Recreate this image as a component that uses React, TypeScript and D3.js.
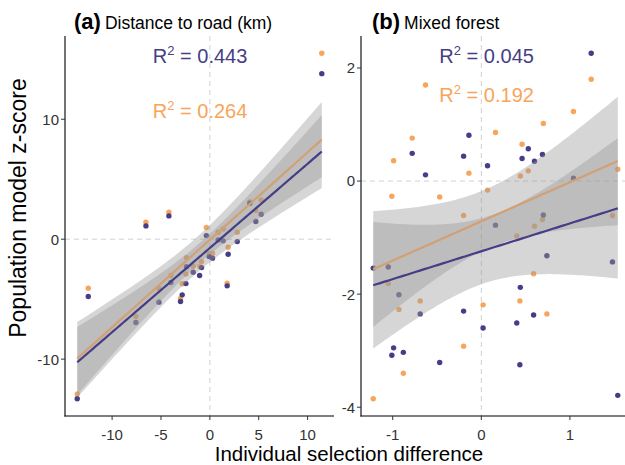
import React from 'react';
import * as d3 from 'd3';

// ---------- data ----------
const xA = [-13.57, -12.44, -7.57, -6.54, -5.21, -4.19, -3.99, -3.0, -2.83, -2.45, -2.39, -1.7, -1.05, -0.85, -0.36, -0.07, 0.27, 0.85, 1.36, 1.77, 1.87, 2.8, 4.09, 4.7, 5.25, 11.45];
const purpleA = [-13.3, -4.78, -6.95, 1.11, -5.25, 1.94, -3.61, -5.2, -4.64, -3.7, -2.3, -2.75, -3.03, -2.37, 0.3, -1.45, -1.58, -0.06, -0.14, -3.89, -1.25, -0.2, 3.0, 1.47, 2.08, 13.8];
const orangeA = [-12.9, -4.08, -6.45, 1.42, -4.1, 2.25, -3.03, -4.95, -3.72, -2.9, -1.55, -2.25, -2.28, -1.87, 0.97, -1.2, -1.17, 0.58, 0.86, -3.67, -0.67, 0.58, 3.1, 2.4, 3.27, 15.5];

const xB = [-1.22, -1.05, -1.01, -0.99, -0.93, -0.88, -0.78, -0.69, -0.63, -0.47, -0.2, -0.2, -0.14, 0.02, 0.07, 0.16, 0.4, 0.435, 0.44, 0.46, 0.53, 0.59, 0.6, 0.69, 0.7, 0.74, 1.04, 1.24, 1.48, 1.54];
const purpleB = [-1.54, -1.52, -3.08, -2.95, -2.01, -3.03, 0.49, -2.35, 0.11, -3.21, 0.44, -2.3, 0.81, -2.6, 0.27, -0.78, -2.51, -3.25, -1.88, 0.4, 0.57, -2.37, 0.35, 0.47, -0.6, -1.32, 0.05, 2.26, -1.43, -3.79];
const orangeB = [-3.85, -1.81, -0.27, 0.36, -2.27, -3.4, 0.76, -2.12, 1.7, -0.28, -0.61, -2.92, 0.14, -2.19, -0.16, 0.86, -0.97, -2.12, 0.09, 0.65, 0.18, -1.64, -0.8, -0.68, 1.02, -2.35, 1.23, 1.8, -0.61, 0.21];

const xTicksA = [-10, -5, 0, 5, 10];
const yTicksA = [-10, 0, 10];
const xTicksB = [-1, 0, 1];
const yTicksB = [-4, -2, 0, 2];

const panelTags = ['(a)', '(b)'];
const panelNames = ['Distance to road (km)', 'Mixed forest'];
const r2LabelsA = ['0.443', '0.264'];
const r2LabelsB = ['0.045', '0.192'];
const xTitle = 'Individual selection difference';
const yTitle = 'Population model z-score';

// ---------- styles ----------
const PURPLE = '#453E86';
const ORANGE = '#F8A55B';
const FONT = '"Liberation Sans", Arial, Helvetica, sans-serif';
const TOP = 36;
const BOTTOM = 416;

function tQuant(df: number) {
  const z = 1.959964;
  const z3 = z ** 3, z5 = z ** 5, z7 = z ** 7, z9 = z ** 9;
  const g1 = (z3 + z) / 4;
  const g2 = (5 * z5 + 16 * z3 + 3 * z) / 96;
  const g3 = (3 * z7 + 19 * z5 + 17 * z3 - 15 * z) / 384;
  const g4 = (79 * z9 + 776 * z7 + 1482 * z5 - 1920 * z3 - 945 * z) / 92160;
  return z + g1 / df + g2 / df ** 2 + g3 / df ** 3 + g4 / df ** 4;
}

function lmFit(xs: number[], ys: number[]) {
  const n = xs.length;
  const xbar = d3.mean(xs)!;
  const ybar = d3.mean(ys)!;
  let sxx = 0, sxy = 0;
  for (let i = 0; i < n; i++) {
    sxx += (xs[i] - xbar) ** 2;
    sxy += (xs[i] - xbar) * (ys[i] - ybar);
  }
  const b = sxy / sxx;
  const a = ybar - b * xbar;
  let sse = 0;
  for (let i = 0; i < n; i++) sse += (ys[i] - a - b * xs[i]) ** 2;
  const s = Math.sqrt(sse / (n - 2));
  const t = tQuant(n - 2);
  const [lo, hi] = d3.extent(xs) as [number, number];
  const grid = d3.range(0, 81).map((i) => lo + ((hi - lo) * i) / 80);
  return grid.map((x) => {
    const y = a + b * x;
    const se = s * Math.sqrt(1 / n + (x - xbar) ** 2 / sxx);
    return { x, y, lo: y - t * se, hi: y + t * se };
  });
}

function expand(ext: [number, number]): [number, number] {
  const r = ext[1] - ext[0];
  return [ext[0] - 0.05 * r, ext[1] + 0.05 * r];
}

type PanelProps = {
  left: number;
  width: number;
  xs: number[];
  pY: number[];
  oY: number[];
  xTicks: number[];
  yTicks: number[];
  tag: string;
  name: string;
  r2: string[];
  r2x: number;
  r2y: number[];
  titleOffset: number;
};

function Panel(p: PanelProps) {
  const xScale = d3.scaleLinear().domain(expand(d3.extent(p.xs) as [number, number])).range([p.left, p.left + p.width]);
  const yScale = d3.scaleLinear().domain(expand(d3.extent([...p.pY, ...p.oY]) as [number, number])).range([BOTTOM, TOP]);
  const fitO = lmFit(p.xs, p.oY);
  const fitP = lmFit(p.xs, p.pY);
  const area = d3.area<{ x: number; lo: number; hi: number }>()
    .x((d) => xScale(d.x)).y0((d) => yScale(d.lo)).y1((d) => yScale(d.hi));
  const line = d3.line<{ x: number; y: number }>().x((d) => xScale(d.x)).y((d) => yScale(d.y));
  const right = p.left + p.width;
  return (
    <g>
      <line x1={xScale(0)} x2={xScale(0)} y1={TOP} y2={BOTTOM} stroke="#d0d0d0" strokeWidth={1} strokeDasharray="5,4" />
      <line x1={p.left} x2={right} y1={yScale(0)} y2={yScale(0)} stroke="#d0d0d0" strokeWidth={1} strokeDasharray="5,4" />
      {p.xs.map((x, i) => (
        <circle key={'o' + i} cx={xScale(x)} cy={yScale(p.oY[i])} r={2.7} fill={ORANGE} />
      ))}
      {p.xs.map((x, i) => (
        <circle key={'p' + i} cx={xScale(x)} cy={yScale(p.pY[i])} r={2.7} fill={PURPLE} />
      ))}
      <path d={area(fitO)!} fill="#999999" fillOpacity={0.4} />
      <path d={line(fitO)!} fill="none" stroke={ORANGE} strokeWidth={2.2} />
      <path d={area(fitP)!} fill="#999999" fillOpacity={0.4} />
      <path d={line(fitP)!} fill="none" stroke={PURPLE} strokeWidth={2.2} />
      {/* axes */}
      <line x1={p.left} x2={p.left} y1={TOP} y2={BOTTOM + 0.5} stroke="#000" strokeWidth={1.1} />
      <line x1={p.left - 0.5} x2={right} y1={BOTTOM} y2={BOTTOM} stroke="#000" strokeWidth={1.1} />
      {p.yTicks.map((t) => (
        <g key={'yt' + t}>
          <line x1={p.left - 4} x2={p.left} y1={yScale(t)} y2={yScale(t)} stroke="#333" strokeWidth={1} />
          <text x={p.left - 6} y={yScale(t)} dy="0.36em" textAnchor="end" fontSize={15} fill="#333" fontFamily={FONT}>{t}</text>
        </g>
      ))}
      {p.xTicks.map((t) => (
        <g key={'xt' + t}>
          <line x1={xScale(t)} x2={xScale(t)} y1={BOTTOM} y2={BOTTOM + 4} stroke="#333" strokeWidth={1} />
          <text x={xScale(t)} y={BOTTOM + 24} textAnchor="middle" fontSize={15} fill="#333" fontFamily={FONT}>{t}</text>
        </g>
      ))}
      {/* R2 labels */}
      {[PURPLE, ORANGE].map((c, i) => (
        <text key={'r2' + i} x={xScale(p.r2x)} y={yScale(p.r2y[i])} textAnchor="middle" fontSize={20} fill={c} fontFamily={FONT}>
          <tspan>R</tspan>
          <tspan dy={-8} fontSize={13}>2</tspan>
          <tspan dy={8}>{' = ' + p.r2[i]}</tspan>
        </text>
      ))}
      <text x={p.left + p.titleOffset} y={29} fontFamily={FONT} fill="#000">
        <tspan fontWeight="bold" fontSize={22}>{p.tag}</tspan>
        <tspan fontSize={17.5} dx={4}>{p.name}</tspan>
      </text>
    </g>
  );
}

export default function App() {
  return (
    <svg width={625} height={465} style={{ position: 'absolute', left: 0, top: 0, background: '#fff' }}>
      <rect x={0} y={0} width={625} height={465} fill="#fff" />
      <Panel left={65} width={269} xs={xA} pY={purpleA} oY={orangeA} xTicks={xTicksA} yTicks={yTicksA}
        tag={panelTags[0]} name={panelNames[0]} r2={r2LabelsA} r2x={-1.0} r2y={[14.67, 10.08]} titleOffset={9} />
      <Panel left={361} width={269} xs={xB} pY={purpleB} oY={orangeB} xTicks={xTicksB} yTicks={yTicksB}
        tag={panelTags[1]} name={panelNames[1]} r2={r2LabelsB} r2x={0.06} r2y={[2.08, 1.4]} titleOffset={11} />
      <text x={349} y={461} textAnchor="middle" fontSize={20.5} fill="#000" fontFamily={FONT}>{xTitle}</text>
      <text transform="translate(26,208) rotate(-90)" textAnchor="middle" fontSize={23} fill="#000" fontFamily={FONT}>{yTitle}</text>
    </svg>
  );
}
